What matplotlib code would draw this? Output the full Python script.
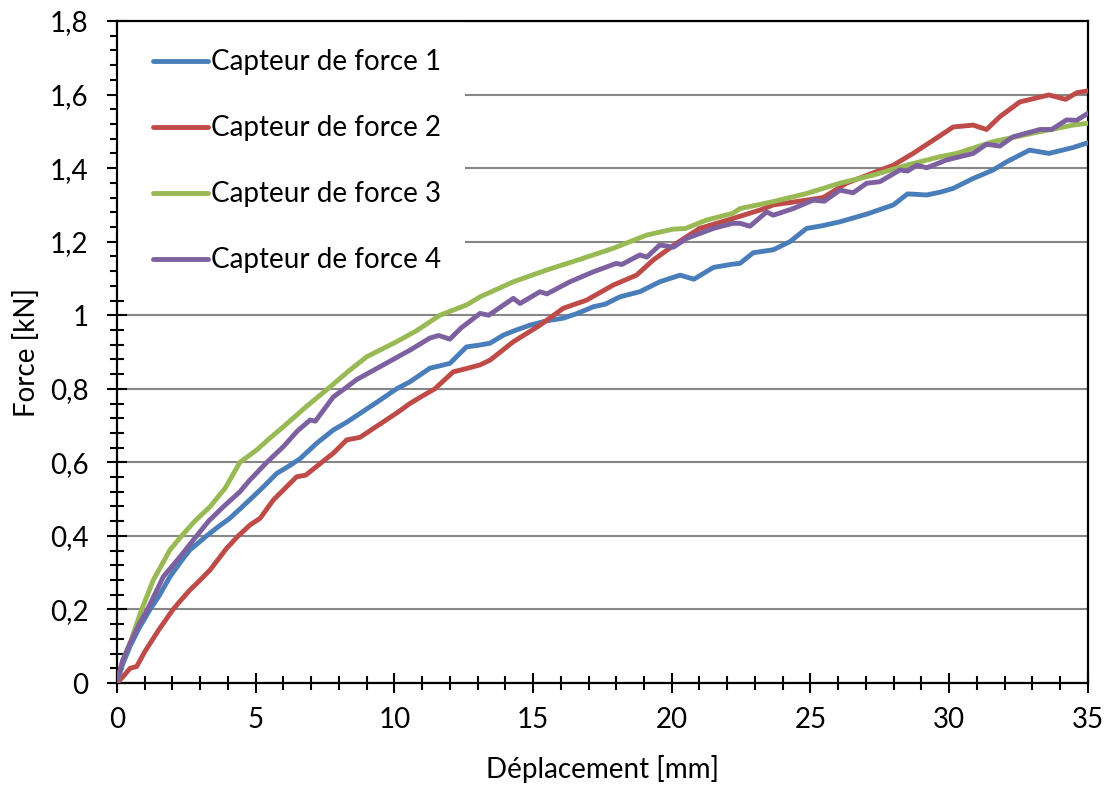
import numpy as np
import matplotlib.pyplot as plt
from matplotlib.ticker import MultipleLocator, FuncFormatter
from matplotlib.patches import Rectangle

# values
x1 = [0, 0.2, 0.47, 0.8, 1.19, 1.5, 1.91, 2.3, 2.63, 3.23, 3.6, 4.07, 4.5, 4.91, 5.3, 5.76, 6.2, 6.6, 7.2, 7.8,
      8.3, 8.76, 9.4, 10.08, 10.56, 11.28, 12.0, 12.6, 13.0, 13.45, 13.93, 14.4, 14.89, 15.5, 16.09, 16.6, 17.17,
      17.6, 18.13, 18.85, 19.57, 20.3, 20.8, 21.5, 22.2, 22.46, 22.94, 23.66, 24.26, 24.86, 25.4, 26.06, 27.03,
      27.99, 28.5, 29.19, 29.7, 30.15, 30.87, 31.59, 32.07, 32.9, 33.6, 34.47, 35]
y1 = [0, 0.05, 0.1, 0.15, 0.2, 0.235, 0.289, 0.33, 0.362, 0.4, 0.422, 0.448, 0.478, 0.507, 0.535, 0.57, 0.59, 0.61,
      0.652, 0.688, 0.71, 0.733, 0.765, 0.8, 0.819, 0.856, 0.869, 0.914, 0.918, 0.924, 0.946, 0.96, 0.973, 0.985,
      0.992, 1.005, 1.023, 1.03, 1.05, 1.064, 1.091, 1.109, 1.098, 1.13, 1.139, 1.141, 1.17, 1.178, 1.2, 1.236,
      1.243, 1.254, 1.275, 1.3, 1.33, 1.327, 1.335, 1.345, 1.372, 1.395, 1.417, 1.449, 1.44, 1.456, 1.469]

x2 = [0, 0.25, 0.47, 0.71, 1.0, 1.5, 2.02, 2.3, 2.63, 3.0, 3.35, 3.95, 4.37, 4.8, 5.16, 5.64, 6.0, 6.48, 6.8, 7.38,
      7.8, 8.28, 8.76, 9.2, 9.6, 10.1, 10.56, 11.0, 11.46, 12.12, 12.6, 13.09, 13.45, 14.29, 15.25, 16.09, 16.93,
      17.89, 18.73, 19.33, 20.18, 21.0, 22.2, 23.18, 23.66, 24.86, 25.46, 26.3, 27.26, 27.99, 28.7, 29.43, 30.15,
      30.87, 31.35, 31.83, 32.55, 33.6, 34.2, 34.6, 35]
y2 = [0, 0.02, 0.04, 0.045, 0.085, 0.144, 0.2, 0.225, 0.253, 0.28, 0.307, 0.366, 0.4, 0.43, 0.448, 0.498, 0.525,
      0.561, 0.565, 0.6, 0.625, 0.661, 0.668, 0.69, 0.71, 0.735, 0.76, 0.78, 0.8, 0.846, 0.855, 0.865, 0.878, 0.928,
      0.973, 1.019, 1.041, 1.082, 1.109, 1.15, 1.196, 1.236, 1.263, 1.286, 1.3, 1.313, 1.32, 1.359, 1.387, 1.408,
      1.44, 1.476, 1.512, 1.517, 1.505, 1.54, 1.58, 1.599, 1.587, 1.605, 1.61]

x3 = [0, 0.2, 0.47, 0.89, 1.31, 1.91, 2.33, 2.8, 3.35, 3.9, 4.43, 5.04, 5.5, 6.0, 6.8, 7.6, 8.3, 9.0, 10.08, 10.8,
      11.64, 12.6, 13.09, 14.29, 15.49, 16.69, 17.89, 19.1, 20.04, 20.5, 21.26, 22.2, 22.46, 23.66, 24.86, 26.06,
      27.26, 28.47, 29.67, 30.27, 31.59, 33.27, 34.47, 35]
y3 = [0, 0.06, 0.108, 0.2, 0.28, 0.362, 0.4, 0.44, 0.479, 0.53, 0.6, 0.634, 0.665, 0.697, 0.75, 0.8, 0.845, 0.887,
      0.928, 0.958, 1.0, 1.028, 1.05, 1.091, 1.123, 1.152, 1.182, 1.218, 1.234, 1.236, 1.259, 1.277, 1.29, 1.309,
      1.331, 1.359, 1.381, 1.408, 1.431, 1.44, 1.472, 1.499, 1.517, 1.522]

x4 = [0, 0.2, 0.47, 0.8, 1.1, 1.67, 2.27, 2.87, 3.3, 3.83, 4.43, 4.79, 5.4, 6.0, 6.5, 6.96, 7.15, 7.8, 8.2, 8.64,
      9.6, 10.56, 11.28, 11.6, 12.0, 12.4, 13.09, 13.4, 14.29, 14.53, 15.25, 15.5, 16.33, 17.17, 18.0, 18.2, 18.85,
      19.1, 19.57, 20.06, 20.54, 21.5, 22.2, 22.46, 22.82, 23.42, 23.66, 24.38, 25.1, 25.5, 26.06, 26.54, 27.03,
      27.5, 28.23, 28.5, 28.83, 29.2, 29.9, 30.87, 31.35, 31.83, 32.3, 33.27, 33.7, 34.23, 34.6, 35]
y4 = [0, 0.06, 0.108, 0.16, 0.2, 0.289, 0.343, 0.4, 0.44, 0.479, 0.52, 0.552, 0.6, 0.643, 0.685, 0.715, 0.712,
      0.778, 0.8, 0.825, 0.865, 0.905, 0.938, 0.945, 0.935, 0.965, 1.005, 1.0, 1.046, 1.032, 1.064, 1.058, 1.091,
      1.118, 1.141, 1.138, 1.164, 1.158, 1.191, 1.185, 1.209, 1.236, 1.25, 1.25, 1.242, 1.281, 1.272, 1.29, 1.313,
      1.31, 1.34, 1.333, 1.359, 1.363, 1.395, 1.392, 1.408, 1.401, 1.422, 1.44, 1.465, 1.46, 1.485, 1.505, 1.505,
      1.531, 1.53, 1.549]

labels = ['Capteur de force 1', 'Capteur de force 2', 'Capteur de force 3', 'Capteur de force 4']
colors = ['#4A7EBB', '#BE4B48', '#98B954', '#7D60A0']

plt.rcParams['font.family'] = ['Lato', 'DejaVu Sans']
fs = 20

fig = plt.figure(figsize=(11.1, 7.87), dpi=100)
ax = fig.add_axes([0.1054, 0.1321, 0.8746, 0.8412])

for xs, ys, lab, c in zip([x1, x2, x3, x4], [y1, y2, y3, y4], labels, colors):
    ax.plot(xs, ys, color=c, lw=3.5, label=lab, solid_capstyle='round', zorder=3)

ax.set_xlim(0, 35)
ax.set_ylim(0, 1.8)
ax.xaxis.set_major_locator(MultipleLocator(5))
ax.xaxis.set_minor_locator(MultipleLocator(1))
ax.yaxis.set_major_locator(MultipleLocator(0.2))
ax.yaxis.set_minor_locator(MultipleLocator(0.04))
ax.yaxis.set_major_formatter(FuncFormatter(lambda v, p: ('%.1f' % v).rstrip('0').rstrip('.').replace('.', ',')))

ax.grid(axis='y', which='major', color='#868686', lw=1.5)
ax.set_axisbelow(True)
for s in ax.spines.values():
    s.set_linewidth(1.6)
    s.set_color('black')
ax.tick_params(which='major', direction='inout', length=15, width=1.5, labelsize=fs)
ax.tick_params(axis='y', which='major', pad=13)
ax.tick_params(axis='x', which='major', pad=10)
ax.tick_params(which='minor', direction='inout', length=10, width=1.5)

ax.set_xlabel('Déplacement [mm]', fontsize=fs)
ax.set_ylabel('Force [kN]', fontsize=fs)
ax.xaxis.set_label_coords(0.5, -0.108)
ax.yaxis.set_label_coords(-0.079, 0.5)

# white legend area hides the gridlines behind it
ax.add_patch(Rectangle((0, 0.59), 0.358, 0.41, transform=ax.transAxes,
                       facecolor='white', edgecolor='none', zorder=2))

leg = ax.legend(loc='upper left', bbox_to_anchor=(0.037, 0.957), fontsize=fs, frameon=False,
                handlelength=2.0, handletextpad=0.1, labelspacing=1.44, borderpad=0, borderaxespad=0)
leg.set_zorder(5)
for h in leg.get_lines():
    h.set_linewidth(3.5)

fig.savefig('out.png', dpi=100)
